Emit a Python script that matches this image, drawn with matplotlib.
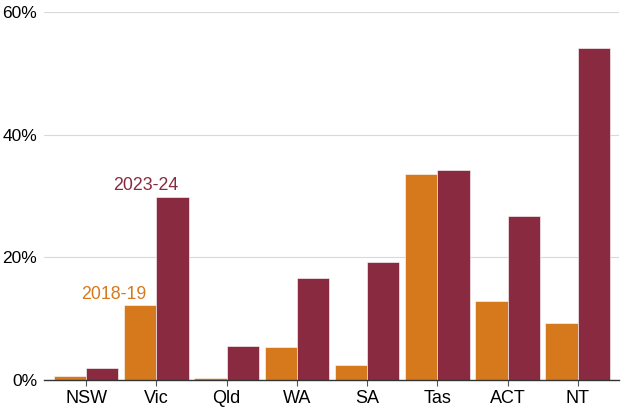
import numpy as np
import matplotlib.pyplot as plt

plt.rcParams['font.family'] = ['Liberation Sans', 'DejaVu Sans']

states = ['NSW', 'Vic', 'Qld', 'WA', 'SA', 'Tas', 'ACT', 'NT']
share_2018 = [0.65, 12.2, 0.3, 5.4, 2.5, 33.6, 12.9, 9.25]
share_2023 = [2.0, 29.9, 5.6, 16.7, 19.2, 34.2, 26.8, 54.1]

orange = '#D5791C'
maroon = '#8A2A40'

fig = plt.figure(figsize=(6.28, 4.11), dpi=100)
ax = fig.add_axes([0.070, 0.0754, 0.916, 0.8946])

x = np.arange(len(states))
w = 0.46
ax.bar(x - w / 2, share_2018, w, color=orange, edgecolor='white', linewidth=0.4, zorder=3)
ax.bar(x + w / 2, share_2023, w, color=maroon, edgecolor='white', linewidth=0.4, zorder=3)

# series labels sitting above the Vic bars
ax.text(1 - w / 2 - 0.38, share_2018[1] + 0.4, '2018-19', color=orange,
        ha='center', va='bottom', fontsize=12.8)
ax.text(1 + w / 2 - 0.38, share_2023[1] + 0.4, '2023-24', color=maroon,
        ha='center', va='bottom', fontsize=12.8)

ax.set_xlim(-0.6, 7.59)
ax.set_ylim(0, 60)
ax.set_yticks([0, 20, 40, 60])
ax.set_yticklabels(['0%', '20%', '40%', '60%'])
ax.set_xticks(x)
ax.set_xticklabels(states)

ax.yaxis.grid(True, color='#d9d9d9', linewidth=0.8, zorder=0)
ax.set_axisbelow(True)
for s in ['top', 'right', 'left']:
    ax.spines[s].set_visible(False)
ax.spines['bottom'].set_color('#333333')
ax.spines['bottom'].set_linewidth(1.0)
ax.spines['bottom'].set_zorder(4)

ax.tick_params(axis='y', length=0, pad=5, labelsize=12.5, colors='black')
ax.tick_params(axis='x', length=4, width=0.8, color='#555555', pad=3, labelsize=13)

fig.savefig('out.png', dpi=100)
